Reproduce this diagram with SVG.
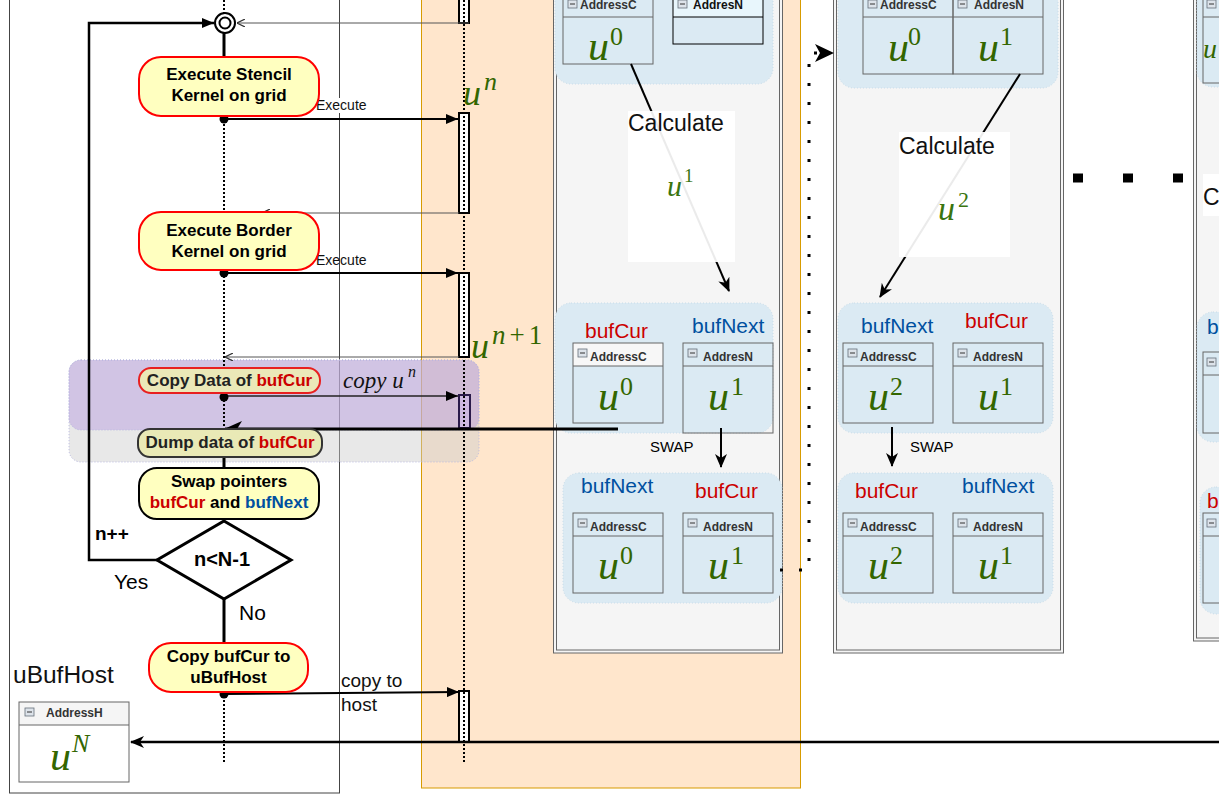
<svg xmlns="http://www.w3.org/2000/svg" width="1219" height="805" viewBox="0 0 1219 805">
<defs>
<style>
.sans{font-family:"Liberation Sans",Arial,sans-serif}
.nY{fill:#ffffc0;stroke:#ff0000;stroke-width:2}
.nK{fill:#ffffc0;stroke:#000;stroke-width:2}
.t17{font-weight:bold;font-size:17px;font-family:"Liberation Sans",Arial,sans-serif;fill:#000;text-anchor:middle}
.red{fill:#cc0000}
.blue{fill:#0050a0}
.panel{fill:#f5f5f5;stroke:#666;stroke-width:1}
.pin{fill:none;stroke:#666;stroke-width:1}
.region{fill:#dbeaf3;stroke:#c8dce9;stroke-dasharray:1 2}
.tb{fill:none;stroke:#666;stroke-width:1}
.th{font-weight:bold;font-size:12px;font-family:"Liberation Sans",Arial,sans-serif;fill:#333}
.mu{font-style:italic;font-size:42px;font-family:"Liberation Serif","DejaVu Serif",serif;fill:#336600}
.ms{font-size:26px;font-family:"Liberation Serif","DejaVu Serif",serif;fill:#336600}
.msi{font-style:italic;font-size:26px;font-family:"Liberation Serif","DejaVu Serif",serif;fill:#336600}
.buf{font-size:21px;font-family:"Liberation Sans",Arial,sans-serif}
.calc{font-size:23px;font-family:"Liberation Sans",Arial,sans-serif;fill:#111}
.life{stroke:#000;stroke-width:2;stroke-dasharray:2 2;fill:none}
.act{fill:#fff;stroke:#000;stroke-width:2}
.msg{stroke:#000;stroke-width:2;fill:none}
.ret{stroke:#555;stroke-width:1;fill:none}
.flow{stroke:#000;stroke-width:3;fill:none}
.lbl{font-size:14px;font-family:"Liberation Sans",Arial,sans-serif;fill:#111}
</style>
<marker id="blk" markerUnits="userSpaceOnUse" viewBox="0 0 12 10" refX="12" refY="5" markerWidth="12" markerHeight="10" orient="auto"><path d="M0,0 L12,5 L0,10 Z" fill="#000"/></marker>
<marker id="cls" markerUnits="userSpaceOnUse" viewBox="0 0 14 12" refX="13" refY="6" markerWidth="14" markerHeight="12" orient="auto"><path d="M0,0 L14,6 L0,12 L4,6 Z" fill="#000"/></marker>
<marker id="big" markerUnits="userSpaceOnUse" viewBox="0 0 18 16" refX="17" refY="8" markerWidth="18" markerHeight="16" orient="auto"><path d="M0,0 L18,8 L0,16 L5,8 Z" fill="#000"/></marker>
<marker id="opn" markerUnits="userSpaceOnUse" viewBox="0 0 8 8" refX="8" refY="4" markerWidth="8" markerHeight="8" orient="auto"><path d="M0,0 L8,4 L0,8" fill="none" stroke="#333" stroke-width="1.2"/></marker>
<g id="minus"><rect x="0" y="0" width="9" height="8" fill="#dde3ea" stroke="#66707a" stroke-width="0.8"/><line x1="2" y1="4" x2="7" y2="4" stroke="#333" stroke-width="1"/></g>
</defs>

<!-- panels / backgrounds -->
<g id="host-panel"><rect x="9.5" y="-10" width="330" height="803" fill="#fff" stroke="#444" stroke-width="1"/></g>
<g id="device-panel"><rect x="421.5" y="-10" width="379" height="798" fill="#ffe6cc" stroke="#d79b00" stroke-width="1"/></g>
<g id="dump-region"><rect x="69" y="360" width="410" height="102" rx="12" fill="#cccccc" fill-opacity="0.45" stroke="#b8b8e0" stroke-dasharray="1 2"/></g>
<g id="copy-region"><rect x="69" y="360" width="410" height="70" rx="12" fill="#b9a0e0" fill-opacity="0.5" stroke="#b8b8e0" stroke-dasharray="1 2"/></g>

<!-- step panel 1 -->
<g id="step1">
<rect x="553.5" y="-10" width="229" height="663" class="panel"/>
<rect x="556.5" y="-10" width="223" height="660" class="pin"/>
<rect x="555" y="-20" width="218" height="104" rx="16" class="region"/>
<rect x="555" y="303" width="218" height="130" rx="16" class="region"/>
<rect x="563" y="473" width="219" height="130" rx="16" class="region"/>
<g id="s1-top-c"><rect x="563" y="-10" width="90" height="74" class="tb"/><line x1="563" y1="17" x2="653" y2="17" class="tb"/><use href="#minus" x="568" y="0"/><text class="th" x="580" y="9">AddressC</text><text class="mu" x="588" y="60">u</text><text class="ms" x="610" y="45">0</text></g>
<g id="s1-top-n"><rect x="673" y="-10" width="90" height="27" fill="#e8f6fc"/><rect x="673" y="-10" width="90" height="54" fill="none" stroke="#000"/><line x1="673" y1="17" x2="763" y2="17" stroke="#000"/><use href="#minus" x="678" y="0"/><text class="th" x="693" y="9" style="fill:#111">AddresN</text></g>
<text class="buf red" x="585" y="338">bufCur</text>
<text class="buf blue" x="692" y="333">bufNext</text>
<g id="s1-mid-c"><rect x="573" y="343" width="90" height="23" fill="#f7f7f7"/><rect x="573" y="343" width="90" height="80" class="tb"/><line x1="573" y1="366" x2="663" y2="366" class="tb"/><use href="#minus" x="578" y="349"/><text class="th" x="590" y="361">AddressC</text><text class="mu" x="598" y="410">u</text><text class="ms" x="620" y="395">0</text></g>
<g id="s1-mid-n"><rect x="683" y="343" width="90" height="90" class="tb"/><line x1="683" y1="366" x2="773" y2="366" class="tb"/><use href="#minus" x="688" y="349"/><text class="th" x="703" y="361">AddresN</text><text class="mu" x="708" y="410">u</text><text class="ms" x="731" y="395">1</text></g>
<text class="sans" x="650" y="452" font-size="15">SWAP</text>
<text class="buf blue" x="581" y="493">bufNext</text>
<text class="buf red" x="695" y="498">bufCur</text>
<g id="s1-bot-c"><rect x="573" y="513" width="90" height="80" class="tb"/><line x1="573" y1="536" x2="663" y2="536" class="tb"/><use href="#minus" x="578" y="519"/><text class="th" x="590" y="531">AddressC</text><text class="mu" x="598" y="579">u</text><text class="ms" x="620" y="564">0</text></g>
<g id="s1-bot-n"><rect x="683" y="513" width="90" height="80" class="tb"/><line x1="683" y1="536" x2="773" y2="536" class="tb"/><use href="#minus" x="688" y="519"/><text class="th" x="703" y="531">AddresN</text><text class="mu" x="708" y="579">u</text><text class="ms" x="731" y="564">1</text></g>
</g>

<!-- step panel 2 -->
<g id="step2">
<rect x="833.5" y="-10" width="230" height="663" class="panel"/>
<rect x="836.5" y="-10" width="224" height="660" class="pin"/>
<rect x="838" y="-20" width="220" height="108" rx="16" class="region"/>
<rect x="838" y="303" width="215" height="130" rx="16" class="region"/>
<rect x="838" y="473" width="215" height="130" rx="16" class="region"/>
<g id="s2-top-c"><rect x="863" y="-10" width="90" height="84" class="tb"/><line x1="863" y1="17" x2="953" y2="17" class="tb"/><use href="#minus" x="868" y="0"/><text class="th" x="880" y="9">AddressC</text><text class="mu" x="888" y="61">u</text><text class="ms" x="908" y="45">0</text></g>
<g id="s2-top-n"><rect x="953" y="-10" width="90" height="84" class="tb"/><line x1="953" y1="17" x2="1043" y2="17" class="tb"/><use href="#minus" x="958" y="0"/><text class="th" x="974" y="9">AddresN</text><text class="mu" x="978" y="61">u</text><text class="ms" x="1000" y="45">1</text></g>
<text class="buf blue" x="861" y="333">bufNext</text>
<text class="buf red" x="965" y="328">bufCur</text>
<g id="s2-mid-c"><rect x="843" y="343" width="90" height="80" class="tb"/><line x1="843" y1="366" x2="933" y2="366" class="tb"/><use href="#minus" x="848" y="349"/><text class="th" x="860" y="361">AddressC</text><text class="mu" x="868" y="410">u</text><text class="ms" x="890" y="395">2</text></g>
<g id="s2-mid-n"><rect x="953" y="343" width="90" height="80" class="tb"/><line x1="953" y1="366" x2="1043" y2="366" class="tb"/><use href="#minus" x="958" y="349"/><text class="th" x="973" y="361">AddresN</text><text class="mu" x="978" y="410">u</text><text class="ms" x="1000" y="395">1</text></g>
<text class="sans" x="910" y="452" font-size="15">SWAP</text>
<text class="buf red" x="855" y="498">bufCur</text>
<text class="buf blue" x="962" y="493">bufNext</text>
<g id="s2-bot-c"><rect x="843" y="513" width="90" height="80" class="tb"/><line x1="843" y1="536" x2="933" y2="536" class="tb"/><use href="#minus" x="848" y="519"/><text class="th" x="860" y="531">AddressC</text><text class="mu" x="868" y="579">u</text><text class="ms" x="890" y="564">2</text></g>
<g id="s2-bot-n"><rect x="953" y="513" width="90" height="80" class="tb"/><line x1="953" y1="536" x2="1043" y2="536" class="tb"/><use href="#minus" x="958" y="519"/><text class="th" x="973" y="531">AddresN</text><text class="mu" x="978" y="579">u</text><text class="ms" x="1000" y="564">1</text></g>
</g>

<!-- step panel 3 (cut off) -->
<g id="step3">
<rect x="1193.5" y="-10" width="60" height="651" class="panel"/>
<rect x="1196.5" y="-10" width="60" height="648" class="pin"/>
<rect x="1197" y="-20" width="50" height="107" rx="16" class="region"/>
<rect x="1197" y="312" width="50" height="130" rx="16" class="region"/>
<rect x="1200" y="487" width="50" height="127" rx="16" class="region"/>
<rect x="1203" y="-10" width="40" height="93" class="tb"/><line x1="1203" y1="17" x2="1219" y2="17" class="tb"/><use href="#minus" x="1207" y="0"/>
<text class="mu" x="1203" y="58" style="font-size:28px">u</text>
<rect x="1203" y="174" width="40" height="42" fill="#fff"/>
<text class="calc" x="1203" y="205">C</text>
<text class="buf blue" x="1207" y="334">b</text>
<rect x="1203" y="352" width="40" height="81" class="tb"/><line x1="1203" y1="375" x2="1219" y2="375" class="tb"/><use href="#minus" x="1207" y="358"/>
<text class="buf red" x="1207" y="508">b</text>
<rect x="1203" y="513" width="40" height="90" class="tb"/><line x1="1203" y1="536" x2="1219" y2="536" class="tb"/><use href="#minus" x="1207" y="519"/>
</g>

<!-- lifelines and activations -->
<g id="host-lifeline"><line x1="224" y1="0" x2="224" y2="762" class="life"/></g>
<g id="device-lifeline">
<rect x="459" y="-10" width="10" height="33" class="act"/>
<rect x="459" y="113" width="10" height="100" class="act"/>
<rect x="459" y="273" width="10" height="84" class="act"/>
<rect x="459" y="395" width="11" height="33" fill="#cdb8e0" stroke="#2a1a4a" stroke-width="2"/>
<rect x="459" y="691" width="10" height="51" class="act"/>
<line x1="464" y1="0" x2="464" y2="762" class="life"/>
</g>

<!-- connectors -->
<g id="connectors">
<line x1="224" y1="33" x2="224" y2="57" class="flow"/>
<line x1="224" y1="457" x2="224" y2="468" class="flow"/>
<line x1="224" y1="599" x2="224" y2="643" class="flow"/>
<path d="M157,560 H89 V23 H214" stroke="#000" stroke-width="2.5" fill="none" marker-end="url(#blk)"/>
<path d="M469,23 H237" class="ret" marker-end="url(#opn)"/>
<path d="M459,213 H262" class="ret" marker-end="url(#opn)"/>
<path d="M459,357 H225" class="ret" marker-end="url(#opn)"/>
<path d="M224,119 H458" class="msg" marker-end="url(#blk)"/>
<path d="M224,273 H458" class="msg" marker-end="url(#blk)"/>
<path d="M224,396 H458" stroke="#222" stroke-width="1.5" fill="none" marker-end="url(#blk)"/>
<path d="M224,694 L459,692" class="msg" marker-end="url(#blk)"/>
<path d="M618,429 H225" stroke="#000" stroke-width="3" fill="none" marker-end="url(#big)"/>
<path d="M1219,742 H131" stroke="#000" stroke-width="2.5" fill="none" marker-end="url(#cls)"/>
<path d="M631,64 L729,291" stroke="#000" stroke-width="2" fill="none" marker-end="url(#cls)"/>
<path d="M1020,74 L880,297" stroke="#000" stroke-width="2" fill="none" marker-end="url(#cls)"/>
<path d="M721,428 V467" stroke="#000" stroke-width="2" fill="none" marker-end="url(#cls)"/>
<path d="M892,427 V466" stroke="#000" stroke-width="2" fill="none" marker-end="url(#cls)"/>
<path d="M780,570 H809 V53 H818" stroke="#000" stroke-width="3" stroke-dasharray="3 16" fill="none"/>
<polygon points="815,44 834,53 815,62 820,53" fill="#000"/>
<line x1="1073" y1="178" x2="1183" y2="178" stroke="#000" stroke-width="9" stroke-dasharray="10 40"/>
<circle cx="224" cy="119" r="4.5"/>
<circle cx="224" cy="273" r="4.5"/>
<circle cx="224" cy="397" r="4.5"/>
<circle cx="224" cy="694" r="4.5"/>
<rect x="315" y="98" width="54" height="15" fill="#fff"/>
<text class="lbl" x="316" y="110">Execute</text>
<text class="lbl" x="316" y="265">Execute</text>
<text x="343" y="388" font-family="Liberation Serif,serif" font-style="italic" font-size="23" fill="#111">copy u</text>
<text x="408" y="377" font-family="Liberation Serif,serif" font-style="italic" font-size="16" fill="#111">n</text>
<text class="sans" x="341" y="687" font-size="19" fill="#111">copy to</text>
<text class="sans" x="341" y="711" font-size="19" fill="#111">host</text>
</g>

<!-- calculate labels -->
<g id="calc1">
<rect x="628" y="111" width="107" height="151" fill="#fff" fill-opacity="0.92"/>
<text class="calc" x="628" y="131">Calculate</text>
<text x="667" y="196" font-family="Liberation Serif,serif" font-style="italic" font-size="30" fill="#3a7510">u</text>
<text x="684" y="182" font-family="Liberation Serif,serif" font-size="19" fill="#3a7510">1</text>
</g>
<g id="calc2">
<rect x="899" y="132" width="111" height="125" fill="#fff" fill-opacity="0.92"/>
<text class="calc" x="899" y="154">Calculate</text>
<text x="938" y="220" font-family="Liberation Serif,serif" font-style="italic" font-size="34" fill="#3a7510">u</text>
<text x="958" y="207" font-family="Liberation Serif,serif" font-size="22" fill="#3a7510">2</text>
</g>

<!-- data labels -->
<g id="label-un"><text x="463" y="105" font-family="Liberation Serif,serif" font-style="italic" font-size="36" fill="#336600">u</text><text x="484" y="90" class="msi">n</text></g>
<g id="label-un1"><text x="471" y="358" font-family="Liberation Serif,serif" font-style="italic" font-size="36" fill="#336600">u</text><text x="492" y="344" font-family="Liberation Serif,serif" font-size="27" fill="#336600"><tspan font-style="italic">n</tspan><tspan dx="4">+</tspan><tspan dx="4">1</tspan></text></g>

<!-- nodes -->
<g id="start"><circle cx="225" cy="23" r="10" fill="#fff" stroke="#000" stroke-width="2"/><circle cx="225" cy="23" r="5.5" fill="#fff" stroke="#000" stroke-width="2"/></g>
<g id="stencil"><rect x="139" y="57" width="180" height="59" rx="22" class="nY"/><text class="t17" x="229" y="80">Execute Stencil</text><text class="t17" x="229" y="101">Kernel on grid</text></g>
<g id="border"><rect x="139" y="212" width="180" height="58" rx="22" class="nY"/><text class="t17" x="229" y="236">Execute Border</text><text class="t17" x="229" y="257">Kernel on grid</text></g>
<g id="copydata"><rect x="139" y="368" width="181" height="25" rx="12" fill="#ebe8b8" stroke="#e82020" stroke-width="2"/><text class="t17" x="229.5" y="386"><tspan fill="#222">Copy Data of </tspan><tspan class="red">bufCur</tspan></text></g>
<g id="dump"><rect x="138" y="429" width="184" height="28" rx="12" fill="#e9e9b6" stroke="#333" stroke-width="2"/><text class="t17" x="230" y="448"><tspan fill="#222">Dump data of </tspan><tspan class="red">bufCur</tspan></text></g>
<g id="swap"><rect x="139" y="468" width="180" height="51" rx="18" class="nK"/><text class="t17" x="229" y="487">Swap pointers</text><text class="t17" x="229" y="508"><tspan class="red">bufCur</tspan> and <tspan class="blue">bufNext</tspan></text></g>
<g id="decision"><polygon points="224,521 291,560 224,599 157,560" fill="#fff" stroke="#000" stroke-width="3"/><text x="222" y="566" text-anchor="middle" font-family="Liberation Sans,Arial,sans-serif" font-weight="bold" font-size="20">n&lt;N-1</text></g>
<text x="95" y="540" font-family="Liberation Sans,Arial,sans-serif" font-weight="bold" font-size="19">n++</text>
<text x="114" y="589" font-family="Liberation Sans,Arial,sans-serif" font-size="21">Yes</text>
<text x="239" y="620" font-family="Liberation Sans,Arial,sans-serif" font-size="21">No</text>
<g id="copyhost"><rect x="149" y="643" width="159" height="49" rx="22" class="nY"/><text class="t17" x="228.5" y="662">Copy bufCur to</text><text class="t17" x="228.5" y="683">uBufHost</text></g>
<g id="ubufhost">
<text x="13" y="683" font-family="Liberation Sans,Arial,sans-serif" font-size="24.5" fill="#111">uBufHost</text>
<rect x="19" y="702" width="110" height="23" fill="#f5f5f5"/>
<rect x="19" y="702" width="110" height="80" class="tb"/><line x1="19" y1="725" x2="129" y2="725" class="tb"/>
<use href="#minus" x="25" y="708"/>
<text class="th" x="46" y="717">AddressH</text>
<text class="mu" x="50" y="770">u</text><text class="msi" x="72" y="752">N</text>
</g>
</svg>
